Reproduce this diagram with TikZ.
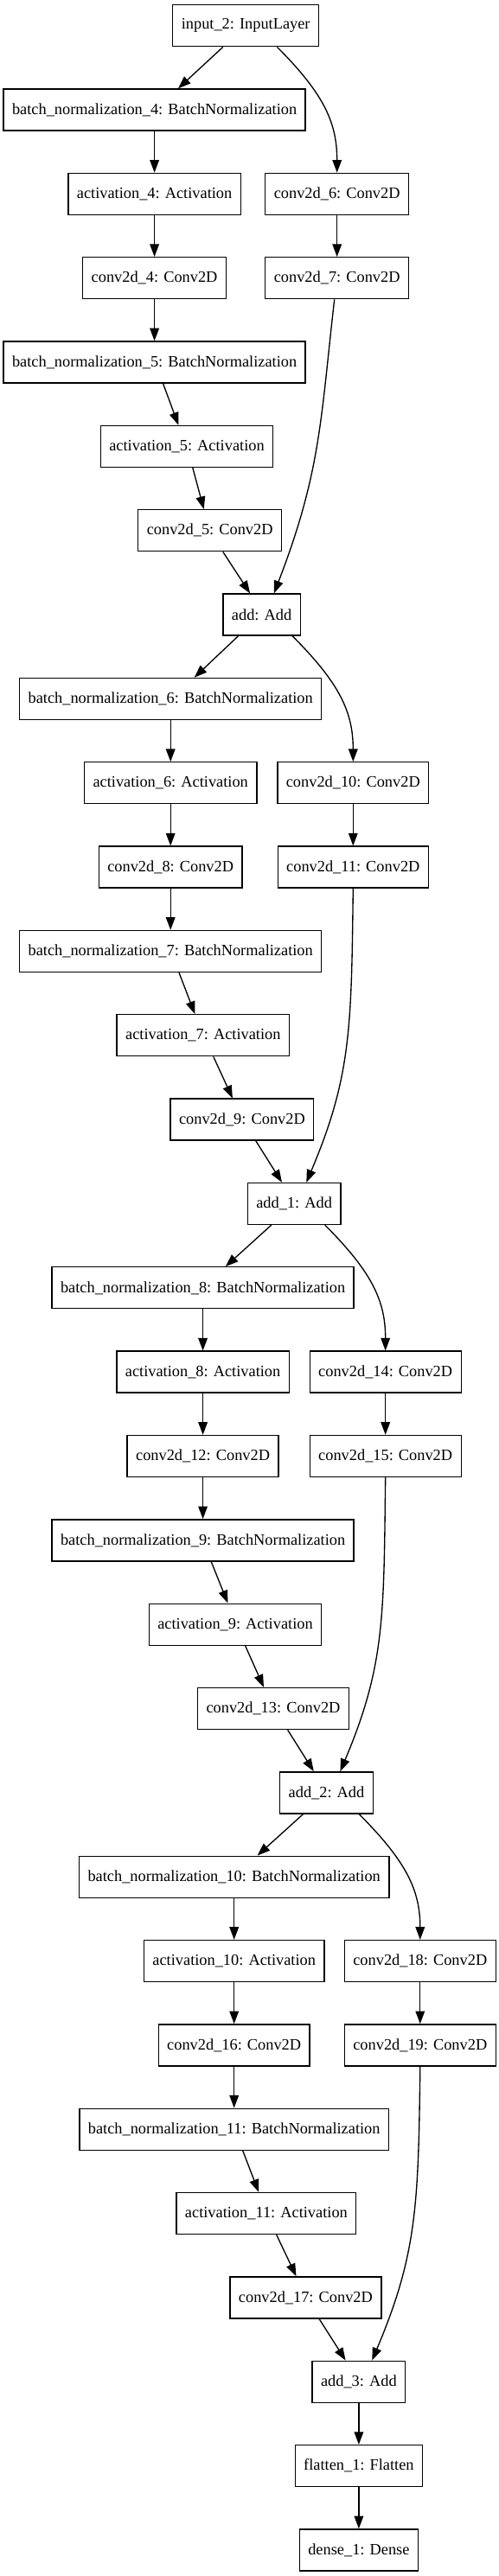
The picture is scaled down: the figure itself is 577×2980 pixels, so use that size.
\documentclass[tikz,border=0pt]{standalone}
\usepackage{fontspec}
\setmainfont{Liberation Serif}
\usetikzlibrary{arrows.meta,calc}
\begin{document}
\begin{tikzpicture}[x=0.75pt,y=-0.75pt,
  layer/.style={draw=black, line width=1pt, rectangle, minimum height=36pt,
    inner xsep=7.5pt, inner ysep=0pt, font=\fontsize{13.76}{16}\selectfont},
  arr/.style={-{Triangle[length=11pt,width=8pt]}, line width=1pt}]
\fill[white] (0,0) rectangle (577,2980);
\useasboundingbox (0,0) rectangle (577,2980);

% rank 0-7
\node[layer] (in2)   at (284.2,29.7)   {input\_2: InputLayer};
\node[layer] (bn4)   at (178.6,127.04) {batch\_normalization\_4: BatchNormalization};
\node[layer] (act4)  at (178.6,224.38) {activation\_4: Activation};
\node[layer] (cv6)   at (389.7,224.38) {conv2d\_6: Conv2D};
\node[layer] (cv4)   at (178.6,321.72) {conv2d\_4: Conv2D};
\node[layer] (cv7)   at (389.7,321.72) {conv2d\_7: Conv2D};
\node[layer] (bn5)   at (178.6,419.06) {batch\_normalization\_5: BatchNormalization};
\node[layer] (act5)  at (216.0,516.4)  {activation\_5: Activation};
\node[layer] (cv5)   at (242.7,613.74) {conv2d\_5: Conv2D};
\node[layer] (add0)  at (302.6,711.08) {add: Add};
% rank 8-14
\node[layer] (bn6)   at (197.2,808.42) {batch\_normalization\_6: BatchNormalization};
\node[layer] (act6)  at (197.2,905.76) {activation\_6: Activation};
\node[layer] (cv10)  at (408.3,905.76) {conv2d\_10: Conv2D};
\node[layer] (cv8)   at (197.2,1003.1) {conv2d\_8: Conv2D};
\node[layer] (cv11)  at (408.3,1003.1) {conv2d\_11: Conv2D};
\node[layer] (bn7)   at (197.2,1100.44) {batch\_normalization\_7: BatchNormalization};
\node[layer] (act7)  at (234.8,1197.78) {activation\_7: Activation};
\node[layer] (cv9)   at (279.9,1295.12) {conv2d\_9: Conv2D};
\node[layer] (add1)  at (340.1,1392.46) {add\_1: Add};
% rank 15-21
\node[layer] (bn8)   at (234.6,1489.8)  {batch\_normalization\_8: BatchNormalization};
\node[layer] (act8)  at (234.6,1587.14) {activation\_8: Activation};
\node[layer] (cv14)  at (445.7,1587.14) {conv2d\_14: Conv2D};
\node[layer] (cv12)  at (234.6,1684.48) {conv2d\_12: Conv2D};
\node[layer] (cv15)  at (445.7,1684.48) {conv2d\_15: Conv2D};
\node[layer] (bn9)   at (234.6,1781.82) {batch\_normalization\_9: BatchNormalization};
\node[layer] (act9)  at (272.0,1879.16) {activation\_9: Activation};
\node[layer] (cv13)  at (316.0,1976.5)  {conv2d\_13: Conv2D};
\node[layer] (add2)  at (377.5,2073.84) {add\_2: Add};
% rank 22-30
\node[layer] (bn10)  at (270.7,2171.18) {batch\_normalization\_10: BatchNormalization};
\node[layer] (act10) at (270.7,2268.52) {activation\_10: Activation};
\node[layer] (cv18)  at (485.8,2268.52) {conv2d\_18: Conv2D};
\node[layer] (cv16)  at (270.7,2365.86) {conv2d\_16: Conv2D};
\node[layer] (cv19)  at (485.8,2365.86) {conv2d\_19: Conv2D};
\node[layer] (bn11)  at (270.7,2463.2)  {batch\_normalization\_11: BatchNormalization};
\node[layer] (act11) at (307.9,2560.54) {activation\_11: Activation};
\node[layer] (cv17)  at (353.4,2657.88) {conv2d\_17: Conv2D};
\node[layer] (add3)  at (414.9,2755.22) {add\_3: Add};
\node[layer] (flat)  at (414.9,2852.56) {flatten\_1: Flatten};
\node[layer] (dense) at (414.9,2949.9)  {dense\_1: Dense};

% block 1
\draw[arr] ($(in2.south)+(-26.4,0)$) -- ($(bn4.north)+(27.4,0)$);
\draw[arr] ($(in2.south)+(36.2,0)$) .. controls +(55,55) and +(0,-57) .. (cv6.north);
\draw[arr] (bn4) -- (act4);
\draw[arr] (act4) -- (cv4);
\draw[arr] (cv4) -- (bn5);
\draw[arr] (cv6) -- (cv7);
\draw[arr] ($(bn5.south)+(10,0)$) -- ($(act5.north)+(-9.7,0)$);
\draw[arr] ($(act5.south)+(6.8,0)$) -- ($(cv5.north)+(-7,0)$);
\draw[arr] ($(cv5.south)+(15.1,0)$) -- ($(add0.north)+(-13.5,0)$);
\draw[arr] ($(cv7.south)+(-3,0)$) .. controls +(-16,140) and +(54,-140) .. ($(add0.north)+(14.2,0)$);
% block 2
\draw[arr] ($(add0.south)+(-27.1,0)$) -- ($(bn6.north)+(27.5,0)$);
\draw[arr] ($(add0.south)+(35.5,0)$) .. controls +(55,55) and +(0,-57) .. (cv10.north);
\draw[arr] (bn6) -- (act6);
\draw[arr] (act6) -- (cv8);
\draw[arr] (cv8) -- (bn7);
\draw[arr] (cv10) -- (cv11);
\draw[arr] ($(bn7.south)+(9.8,0)$) -- ($(act7.north)+(-9.4,0)$);
\draw[arr] ($(act7.south)+(12,0)$) -- ($(cv9.north)+(-11,0)$);
\draw[arr] ($(cv9.south)+(15.9,0)$) -- ($(add1.north)+(-14.1,0)$);
\draw[arr] (cv11.south) .. controls +(-2,160) and +(52,-123) .. ($(add1.north)+(14.2,0)$);
% block 3
\draw[arr] ($(add1.south)+(-26.3,0)$) -- ($(bn8.north)+(26.2,0)$);
\draw[arr] ($(add1.south)+(35.6,0)$) .. controls +(55,55) and +(0,-57) .. (cv14.north);
\draw[arr] (bn8) -- (act8);
\draw[arr] (act8) -- (cv12);
\draw[arr] (cv12) -- (bn9);
\draw[arr] (cv14) -- (cv15);
\draw[arr] ($(bn9.south)+(9.6,0)$) -- ($(act9.north)+(-8.6,0)$);
\draw[arr] ($(act9.south)+(11.6,0)$) -- ($(cv13.north)+(-11,0)$);
\draw[arr] ($(cv13.south)+(16.6,0)$) -- ($(add2.north)+(-14.7,0)$);
\draw[arr] (cv15.south) .. controls +(-2,160) and +(52,-123) .. ($(add2.north)+(15.9,0)$);
% block 4
\draw[arr] ($(add2.south)+(-26.9,0)$) -- ($(bn10.north)+(26.9,0)$);
\draw[arr] ($(add2.south)+(37.6,0)$) .. controls +(55,55) and +(0,-57) .. (cv18.north);
\draw[arr] (bn10) -- (act10);
\draw[arr] (act10) -- (cv16);
\draw[arr] (cv16) -- (bn11);
\draw[arr] (cv18) -- (cv19);
\draw[arr] ($(bn11.south)+(10,0)$) -- ($(act11.north)+(-8.8,0)$);
\draw[arr] ($(act11.south)+(11.8,0)$) -- ($(cv17.north)+(-10.9,0)$);
\draw[arr] ($(cv17.south)+(15.7,0)$) -- ($(add3.north)+(-15.3,0)$);
\draw[arr] (cv19.south) .. controls +(-2,160) and +(52,-123) .. ($(add3.north)+(15.3,0)$);
% tail
\draw[arr] (add3) -- (flat);
\draw[arr] (flat) -- (dense);
\end{tikzpicture}
\end{document}
